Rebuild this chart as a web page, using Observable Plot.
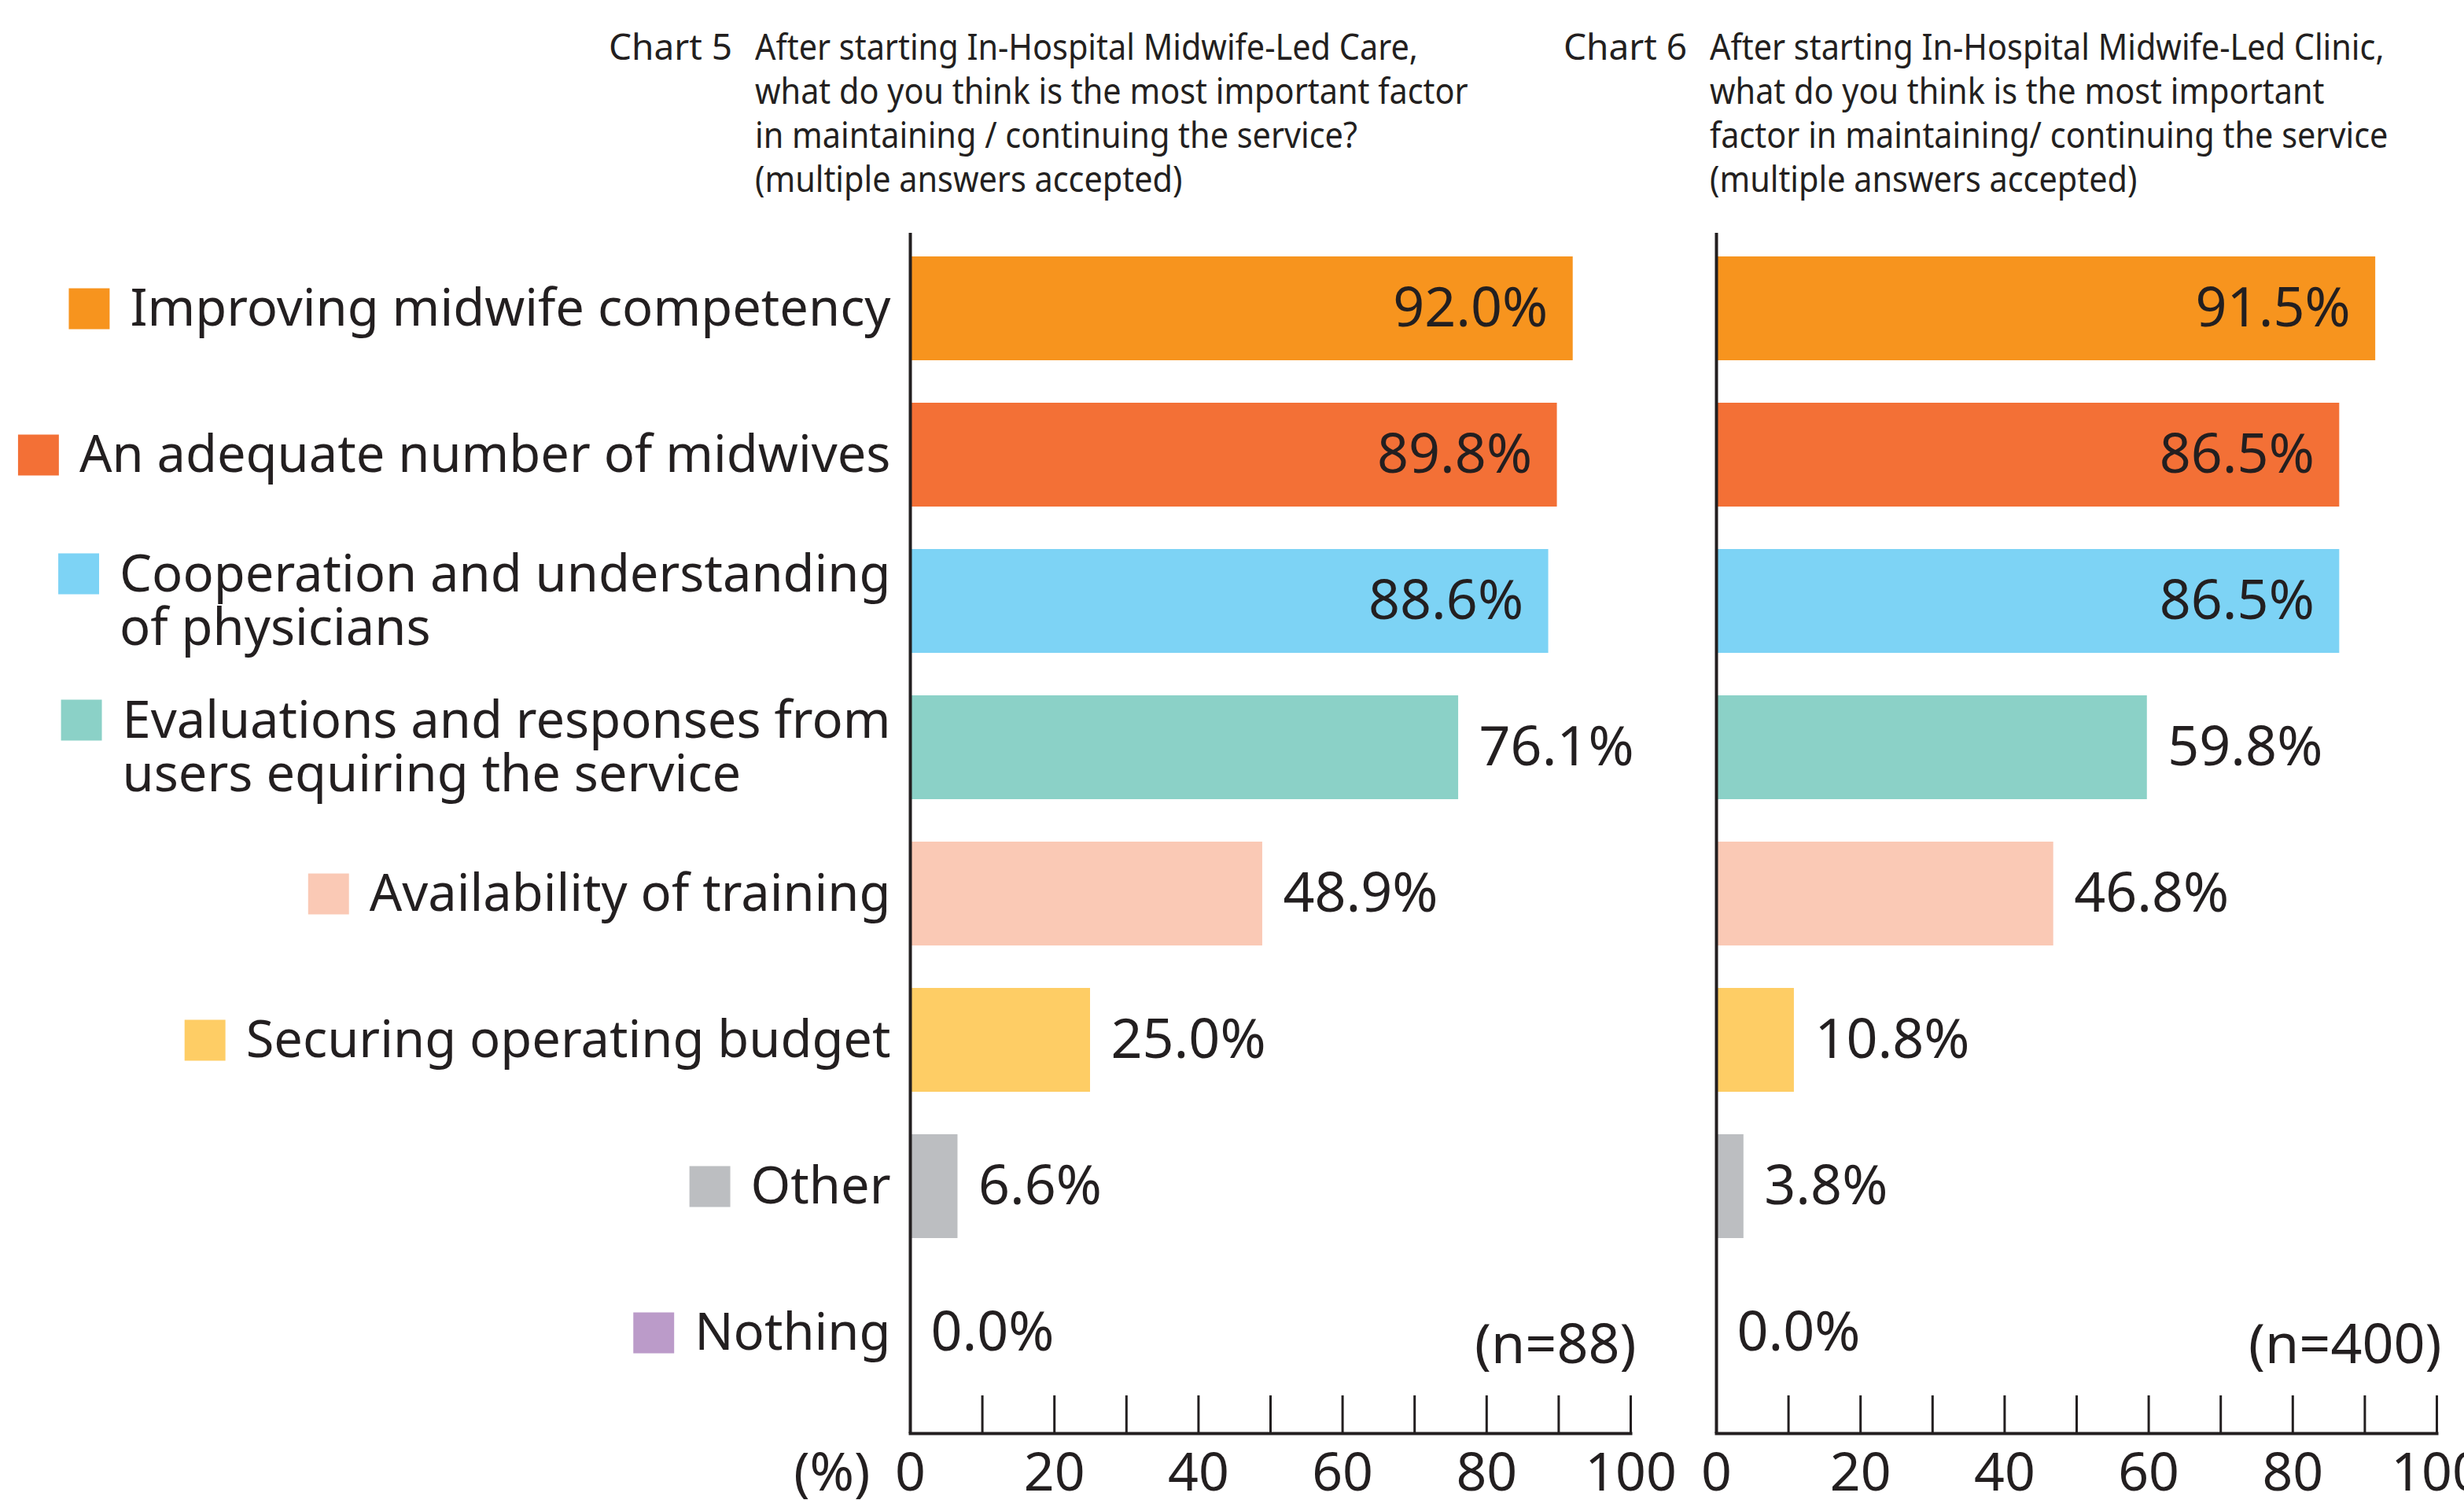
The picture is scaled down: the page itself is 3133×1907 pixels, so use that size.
<!DOCTYPE html>
<html>
<head>
<meta charset="utf-8">
<script src="https://cdn.jsdelivr.net/npm/d3@7"></script>
<script src="https://cdn.jsdelivr.net/npm/@observablehq/plot@0.6"></script>
<style>
  html, body { margin: 0; padding: 0; background: #fff; }
  body { width: 3133px; height: 1907px; position: relative; overflow: hidden; font-family: "Noto Sans", sans-serif; color: #231f20; }
  .panel { position: absolute; top: 0; }
  .title { position: absolute; font-size: 46px; line-height: 56px; white-space: nowrap; z-index: 2; }
  .q { transform-origin: left top; transform: scaleX(0.9); }
</style>
</head>
<body>
<div id="t5" class="title" style="left:774px; top:30px;"></div>
<div id="q5" class="title q" style="left:960px; top:30px;"></div>
<div id="t6" class="title" style="left:1988px; top:30px;"></div>
<div id="q6" class="title q" style="left:2174px; top:30px;"></div>
<div id="left" class="panel" style="left:0px;"></div>
<div id="right" class="panel" style="left:2120px;"></div>
<script>
// ---- data ----
const categories = [
  "Improving midwife competency",
  "An adequate number of midwives",
  "Cooperation and understanding\nof physicians",
  "Evaluations and responses from\nusers equiring the service",
  "Availability of training",
  "Securing operating budget",
  "Other",
  "Nothing"
];
const chart5Values = [92.0, 89.8, 88.6, 76.1, 48.9, 25.0, 6.6, 0.0];
const chart6Values = [91.5, 86.5, 86.5, 59.8, 46.8, 10.8, 3.8, 0.0];
const barColors = ["#F7941E", "#F37036", "#7DD3F5", "#8BD1C7", "#FAC9B5", "#FECD65", "#BCBEC1", "#BB9BC9"];
const axisTickLabels = [0, 20, 40, 60, 80, 100];
const axisTickMarks = [10, 20, 30, 40, 50, 60, 70, 80, 90, 100];
const chartNumbers = ["Chart 5", "Chart 6"];
const chart5Question = [
  "After starting In-Hospital Midwife-Led Care,",
  "what do you think is the most important factor",
  "in maintaining / continuing the service?",
  "(multiple answers accepted)"
];
const chart6Question = [
  "After starting In-Hospital Midwife-Led Clinic,",
  "what do you think is the most important",
  "factor in maintaining/ continuing the service",
  "(multiple answers accepted)"
];
const sampleSizes = ["(n=88)", "(n=400)"];
const unitLabel = "(%)";

// ---- titles ----
document.getElementById("t5").textContent = chartNumbers[0];
document.getElementById("t6").textContent = chartNumbers[1];
document.getElementById("q5").innerHTML = chart5Question.join("<br>");
document.getElementById("q6").innerHTML = chart6Question.join("<br>");

// ---- layout / style ----
const INK = "#231f20";
const FONT = "'Noto Sans', sans-serif";
const H = 1907, MT = 296, MB = 85;
const frameH = H - MT - MB;
const fmt = d => d3.format(".1f")(d) + "%";

const ctx = document.createElement("canvas").getContext("2d");
ctx.font = "65px 'Noto Sans'";
const measure = s => Math.max(...s.split("\n").map(l => ctx.measureText(l).width));

function panel({values, width, marginLeft, marginRight, withLabels, note, noteDx}) {
  const data = categories.map((c, i) => ({c, v: values[i]}));
  const marks = [
    Plot.barX(data, {x: "v", y: "c", fill: "c"}),
    Plot.text(data.filter(d => d.v >= 80), {x: "v", y: "c", text: d => fmt(d.v), textAnchor: "end", dx: -32, fontSize: 70, fill: INK}),
    Plot.text(data.filter(d => d.v < 80), {x: "v", y: "c", text: d => fmt(d.v), textAnchor: "start", dx: 26, fontSize: 70, fill: INK}),
    Plot.ruleX([0], {stroke: INK, strokeWidth: 4}),
    Plot.frame({anchor: "bottom", stroke: INK, strokeWidth: 4}),
    Plot.tickX(axisTickMarks, {x: d => d, insetTop: frameH - 48, stroke: INK, strokeWidth: 3}),
    Plot.axisX(axisTickLabels, {tickSize: 0, tickPadding: 24, fontSize: 68, label: null, fill: INK, tickFormat: d => d}),
    Plot.text([note], {frameAnchor: "right", y: () => categories[categories.length - 1], textAnchor: "end", dx: noteDx, dy: 16, fontSize: 70, fill: INK})
  ];
  if (withLabels) {
    marks.push(Plot.text([unitLabel], {frameAnchor: "bottom-left", textAnchor: "end", lineAnchor: "top", dx: -51, dy: 24, fontSize: 68, fill: INK}));
    categories.forEach((c, i) => {
      const w = measure(c);
      const multi = c.includes("\n");
      marks.push(Plot.text([c], {y: d => d, text: d => d, frameAnchor: "left", textAnchor: "start", lineAnchor: "middle", lineHeight: 1.04, dx: -(25 + w), fontSize: 65, fill: INK}));
      marks.push(Plot.dot([c], {y: d => d, frameAnchor: "left", symbol: "square", r: 29.3, fill: barColors[i], dx: -(25 + w + 52), dy: multi ? -35 : 0}));
    });
  }
  return Plot.plot({
    width, height: H,
    marginLeft, marginRight, marginTop: MT, marginBottom: MB,
    style: {fontFamily: FONT, overflow: "visible", background: "transparent"},
    x: {domain: [0, 100]},
    y: {domain: categories, paddingInner: 0.29, paddingOuter: 0.145, insetTop: 3, insetBottom: 35, axis: null},
    color: {domain: categories, range: barColors},
    marks
  });
}

document.getElementById("left").append(panel({values: chart5Values, width: 2120, marginLeft: 1157, marginRight: 47, withLabels: true, note: sampleSizes[0], noteDx: 7}));
document.getElementById("right").append(panel({values: chart6Values, width: 1013, marginLeft: 62, marginRight: 35, withLabels: false, note: sampleSizes[1], noteDx: 6}));
</script>
</body>
</html>
